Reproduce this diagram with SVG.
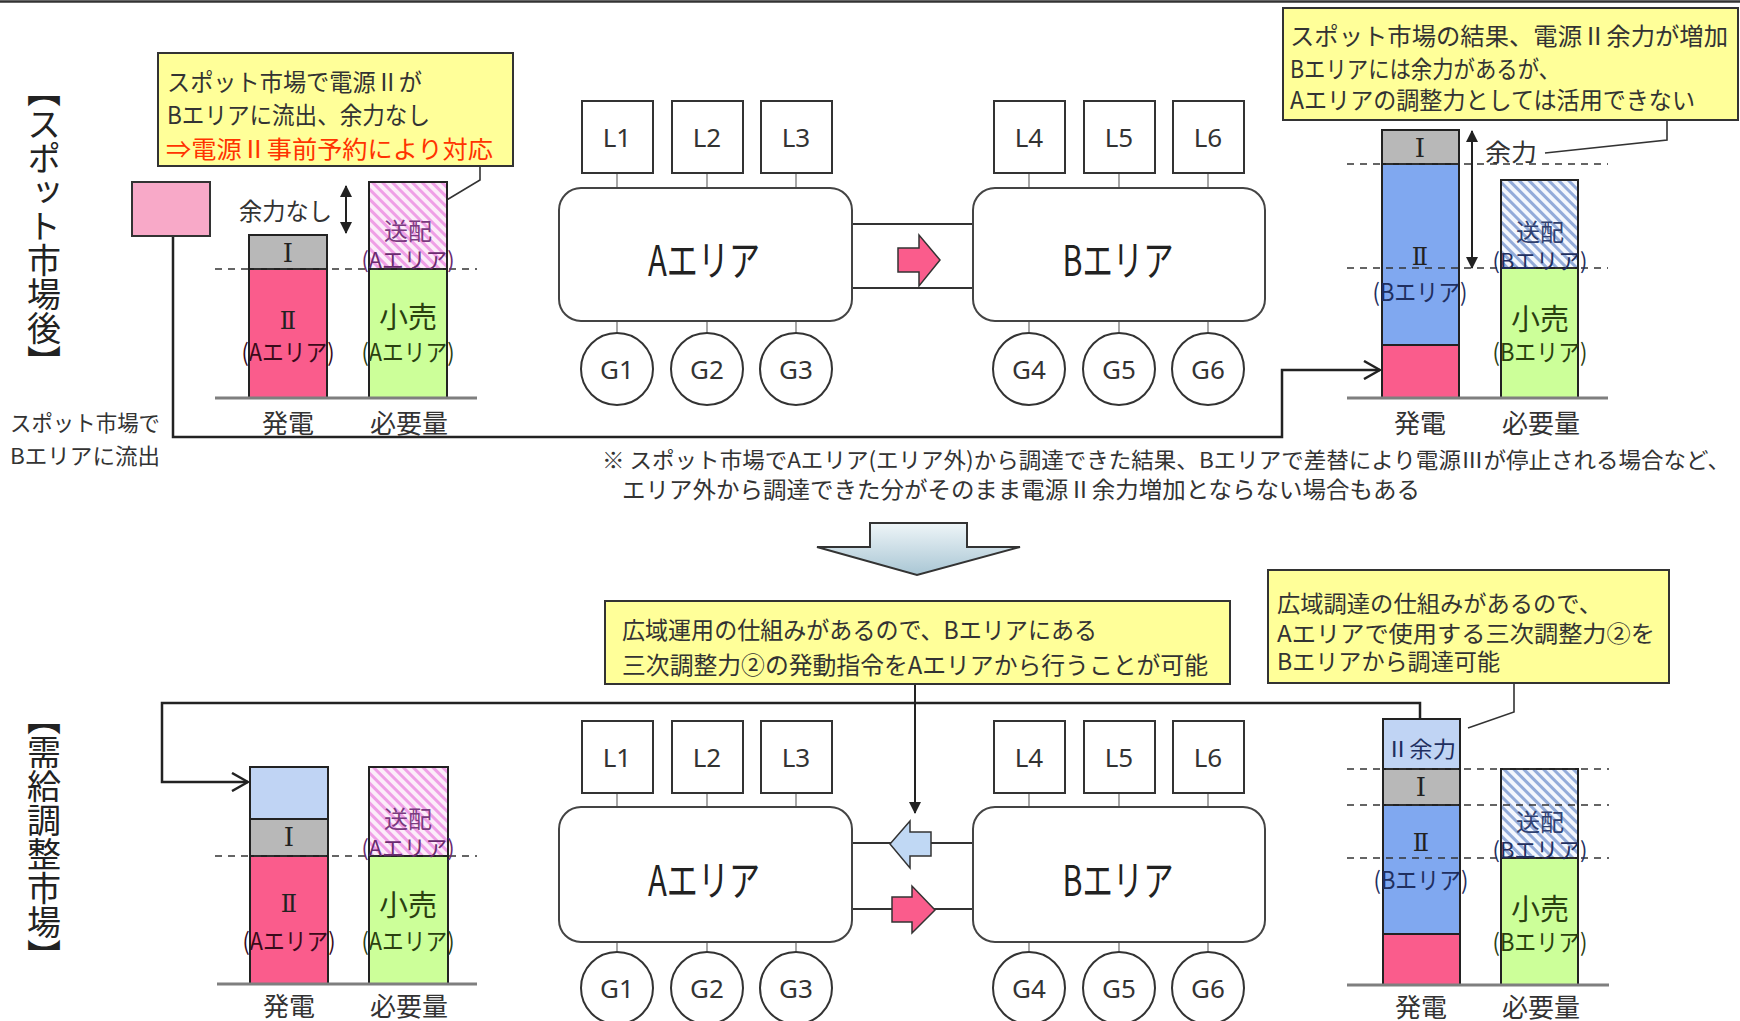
<svg xmlns="http://www.w3.org/2000/svg" width="1740" height="1021" viewBox="0 0 1740 1021">
<style>
.t{font-family:"Noto Sans CJK JP","Noto Sans",sans-serif;fill:#333;dominant-baseline:central}
.c{text-anchor:middle}
.rn{font-family:"DejaVu Serif","Liberation Serif","Noto Sans CJK JP",serif;fill:#222;text-anchor:middle;dominant-baseline:central}
.box{fill:#fff;stroke:#333;stroke-width:2}
.area{fill:#fff;stroke:#444;stroke-width:2}
.call{fill:#ffff99;stroke:#333;stroke-width:2}
.seg{stroke:#222;stroke-width:2}
.base{stroke:#7f7f7f;stroke-width:3}
.dash{stroke:#333;stroke-width:1.5;stroke-dasharray:7 6;fill:none}
.conn{fill:none;stroke:#222;stroke-width:2.5}
.lead{fill:none;stroke:#333;stroke-width:1.6}
.thin{fill:none;stroke:#777;stroke-width:1.3}
.lbl{font-family:"Noto Sans","Liberation Sans",sans-serif;fill:#333;font-size:26px;text-anchor:middle;dominant-baseline:central}
</style>
<defs>
<pattern id="hp" width="7" height="7" patternUnits="userSpaceOnUse" patternTransform="rotate(-45)">
<rect width="7" height="7" fill="#fcecf9"/><rect width="3" height="7" fill="#ef9fe6"/>
</pattern>
<pattern id="hb" width="7" height="7" patternUnits="userSpaceOnUse" patternTransform="rotate(-45)">
<rect width="7" height="7" fill="#f4f7fd"/><rect width="3" height="7" fill="#93abd9"/>
</pattern>
<linearGradient id="dg" x1="0" y1="0" x2="0" y2="1">
<stop offset="0" stop-color="#eef5f8"/><stop offset="1" stop-color="#a9c6d4"/>
</linearGradient>
<marker id="oa" viewBox="0 0 18 20" refX="17" refY="10" markerWidth="18" markerHeight="20" markerUnits="userSpaceOnUse" orient="auto">
<path d="M1,1 L17,10 L1,19" fill="none" stroke="#222" stroke-width="2.5"/>
</marker>
<marker id="ga" viewBox="0 0 12 12" refX="11" refY="6" markerWidth="12" markerHeight="12" markerUnits="userSpaceOnUse" orient="auto">
<path d="M1,1 L11,6 L1,11" fill="none" stroke="#777" stroke-width="1.3"/>
</marker>
<marker id="fa" viewBox="0 0 12 12" refX="11" refY="6" markerWidth="12" markerHeight="12" markerUnits="userSpaceOnUse" orient="auto-start-reverse">
<path d="M0,0 L12,6 L0,12 z" fill="#222"/>
</marker>
</defs>
<rect width="1740" height="1021" fill="#fff"/>
<line x1="0" y1="1.5" x2="1740" y2="1.5" stroke="#333" stroke-width="2.5"/>

<!-- titles -->
<g id="title-spot">
<text class="t" x="44" y="226" font-size="34" text-anchor="middle" style="writing-mode:vertical-rl;fill:#222">【スポット市場後】</text>
</g>
<g id="title-balancing">
<text class="t" x="44" y="837" font-size="34" text-anchor="middle" style="writing-mode:vertical-rl;fill:#222">【需給調整市場】</text>
</g>

<!-- connectors -->
<g id="connectors">
<path class="conn" d="M173,236 V437 H1282 V370 H1380" marker-end="url(#oa)"/>
<path class="conn" d="M1420,719 V703 H162 V782 H248" marker-end="url(#oa)"/>
<path fill="none" stroke="#222" stroke-width="2" d="M915,684 V813" marker-end="url(#fa)"/>
<path fill="none" stroke="#222" stroke-width="2" d="M346,186 V233" marker-start="url(#fa)" marker-end="url(#fa)"/>
<path fill="none" stroke="#222" stroke-width="2" d="M1472,131 V268" marker-start="url(#fa)" marker-end="url(#fa)"/>
<path class="lead" d="M480,166 V180 L445,201"/>
<path class="lead" d="M1667,120 V140 L1545,153"/>
<path class="lead" d="M1514,683 V712 L1468,728"/>
<g class="thin">
<path d="M617,173 V220"/><path d="M707,173 V220"/><path d="M796,173 V220"/>
<path d="M1029,173 V220"/><path d="M1119,173 V220"/><path d="M1208,173 V220"/>
<path d="M617,333 V290" marker-end="url(#ga)"/><path d="M707,333 V290" marker-end="url(#ga)"/><path d="M796,333 V290" marker-end="url(#ga)"/>
<path d="M1029,333 V290" marker-end="url(#ga)"/><path d="M1119,333 V290" marker-end="url(#ga)"/><path d="M1208,333 V290" marker-end="url(#ga)"/>
<path d="M617,793 V840"/><path d="M707,793 V840"/><path d="M796,793 V840"/>
<path d="M1029,793 V840"/><path d="M1119,793 V840"/><path d="M1208,793 V840"/>
<path d="M617,952 V910" marker-end="url(#ga)"/><path d="M707,952 V910" marker-end="url(#ga)"/><path d="M796,952 V910" marker-end="url(#ga)"/>
<path d="M1029,952 V910" marker-end="url(#ga)"/><path d="M1119,952 V910" marker-end="url(#ga)"/><path d="M1208,952 V910" marker-end="url(#ga)"/>
</g>
<g stroke="#333" stroke-width="2">
<line x1="852" y1="224" x2="973" y2="224"/><line x1="852" y1="288" x2="973" y2="288"/>
<line x1="852" y1="843" x2="973" y2="843"/><line x1="852" y1="909" x2="973" y2="909"/>
</g>
</g>

<!-- callouts -->
<g id="callout-spot-a">
<rect class="call" x="158" y="53" width="355" height="113"/>
<text class="t" x="167" y="80" font-size="24" textLength="255" lengthAdjust="spacingAndGlyphs">スポット市場で電源Ⅱが</text>
<text class="t" x="167" y="113" font-size="24" textLength="263" lengthAdjust="spacingAndGlyphs">Bエリアに流出、余力なし</text>
<text class="t" x="166" y="147" font-size="24" textLength="327" lengthAdjust="spacingAndGlyphs" style="fill:#ff3300">⇒電源Ⅱ事前予約により対応</text>
</g>
<g id="callout-spot-b">
<rect class="call" x="1283" y="8" width="455" height="112"/>
<text class="t" x="1290" y="34" font-size="24" textLength="438" lengthAdjust="spacingAndGlyphs">スポット市場の結果、電源Ⅱ余力が増加</text>
<text class="t" x="1290" y="67" font-size="24" textLength="270" lengthAdjust="spacingAndGlyphs">Bエリアには余力があるが、</text>
<text class="t" x="1290" y="98" font-size="24" textLength="405" lengthAdjust="spacingAndGlyphs">Aエリアの調整力としては活用できない</text>
</g>
<g id="callout-wide-op">
<rect class="call" x="605" y="601" width="625" height="83"/>
<text class="t" x="622" y="628" font-size="24" textLength="475" lengthAdjust="spacingAndGlyphs">広域運用の仕組みがあるので、Bエリアにある</text>
<text class="t" x="622" y="663" font-size="24" textLength="586" lengthAdjust="spacingAndGlyphs">三次調整力②の発動指令をAエリアから行うことが可能</text>
</g>
<g id="callout-wide-proc">
<rect class="call" x="1268" y="570" width="401" height="113"/>
<text class="t" x="1277" y="602" font-size="23" textLength="325" lengthAdjust="spacingAndGlyphs">広域調達の仕組みがあるので、</text>
<text class="t" x="1277" y="632" font-size="23" textLength="378" lengthAdjust="spacingAndGlyphs">Aエリアで使用する三次調整力②を</text>
<text class="t" x="1277" y="660" font-size="23" textLength="223" lengthAdjust="spacingAndGlyphs">Bエリアから調達可能</text>
</g>

<!-- spot outflow box & texts -->
<g id="spot-outflow">
<rect x="132" y="182" width="78" height="54" fill="#f8a9c8" stroke="#333" stroke-width="2"/>
<text class="t" x="10" y="421" font-size="22" textLength="150" lengthAdjust="spacingAndGlyphs">スポット市場で</text>
<text class="t" x="10" y="454" font-size="22" textLength="150" lengthAdjust="spacingAndGlyphs">Bエリアに流出</text>
</g>

<!-- top-left chart -->
<g id="chart-a-top">
<rect class="seg" x="249" y="235" width="78" height="34" fill="#b8b8b8"/>
<rect class="seg" x="249" y="269" width="78" height="129" fill="#fa5c8c"/>
<rect class="seg" x="369" y="182" width="78" height="87" fill="url(#hp)"/>
<rect class="seg" x="369" y="269" width="78" height="129" fill="#ccff99"/>
<line class="dash" x1="215" y1="269" x2="477" y2="269"/>
<line class="base" x1="215" y1="398" x2="477" y2="398"/>
<text class="rn" x="288" y="253" font-size="26">Ⅰ</text>
<text class="rn" x="288" y="321" font-size="24">Ⅱ</text>
<text class="t c" x="288" y="350" font-size="24" textLength="93" lengthAdjust="spacingAndGlyphs" style="fill:#3a0a1a">(Aエリア)</text>
<text class="t c" x="408" y="229" font-size="24" style="fill:#7a3a80">送配</text>
<text class="t c" x="408" y="258" font-size="22" textLength="93" lengthAdjust="spacingAndGlyphs" style="fill:#6a2a70">(Aエリア)</text>
<text class="t c" x="408" y="315" font-size="29" style="fill:#2a4010">小売</text>
<text class="t c" x="408" y="350" font-size="24" textLength="93" lengthAdjust="spacingAndGlyphs" style="fill:#2a4010">(Aエリア)</text>
<text class="t" x="239" y="209" font-size="24" textLength="93" lengthAdjust="spacingAndGlyphs">余力なし</text>
<text class="t c" x="288" y="421" font-size="26">発電</text>
<text class="t c" x="409" y="421" font-size="26">必要量</text>
</g>

<!-- top-right chart -->
<g id="chart-b-top">
<rect class="seg" x="1382" y="130" width="77" height="34" fill="#b8b8b8"/>
<rect class="seg" x="1382" y="164" width="77" height="181" fill="#80a8f0"/>
<rect class="seg" x="1382" y="345" width="77" height="53" fill="#fa5c8c"/>
<rect class="seg" x="1501" y="180" width="77" height="88" fill="url(#hb)"/>
<rect class="seg" x="1501" y="268" width="77" height="130" fill="#ccff99"/>
<line class="dash" x1="1347" y1="164" x2="1608" y2="164"/>
<line class="dash" x1="1347" y1="268" x2="1608" y2="268"/>
<line class="base" x1="1347" y1="398" x2="1608" y2="398"/>
<text class="rn" x="1420" y="148" font-size="26">Ⅰ</text>
<text class="rn" x="1420" y="257" font-size="24">Ⅱ</text>
<text class="t c" x="1420" y="290" font-size="24" textLength="95" lengthAdjust="spacingAndGlyphs" style="fill:#1f2f60">(Bエリア)</text>
<text class="t c" x="1540" y="230" font-size="24" style="fill:#2f4070">送配</text>
<text class="t c" x="1540" y="259" font-size="22" textLength="95" lengthAdjust="spacingAndGlyphs" style="fill:#1f2f60">(Bエリア)</text>
<text class="t c" x="1540" y="317" font-size="29" style="fill:#2a4010">小売</text>
<text class="t c" x="1540" y="350" font-size="24" textLength="95" lengthAdjust="spacingAndGlyphs" style="fill:#2a4010">(Bエリア)</text>
<text class="t" x="1485" y="150" font-size="24" textLength="52" lengthAdjust="spacingAndGlyphs">余力</text>
<text class="t c" x="1420" y="421" font-size="26">発電</text>
<text class="t c" x="1541" y="421" font-size="26">必要量</text>
</g>

<!-- top network -->
<g id="net-top">
<rect class="area" x="559" y="188" width="293" height="133" rx="22"/>
<rect class="area" x="973" y="188" width="292" height="133" rx="22"/>
<text class="t c" x="704" y="257" font-size="42" textLength="112" lengthAdjust="spacingAndGlyphs" style="fill:#222">Aエリア</text>
<text class="t c" x="1118" y="257" font-size="42" textLength="111" lengthAdjust="spacingAndGlyphs" style="fill:#222">Bエリア</text>
<polygon points="898,248 919,248 919,235 940,260 919,286 919,272 898,272" fill="#fa5c8c" stroke="#333" stroke-width="1.5"/>
</g>
<g id="loads-top">
<rect class="box" x="582" y="101" width="71" height="72"/><text class="lbl" x="617" y="137">L1</text>
<rect class="box" x="672" y="101" width="71" height="72"/><text class="lbl" x="707" y="137">L2</text>
<rect class="box" x="761" y="101" width="71" height="72"/><text class="lbl" x="796" y="137">L3</text>
<rect class="box" x="994" y="101" width="71" height="72"/><text class="lbl" x="1029" y="137">L4</text>
<rect class="box" x="1084" y="101" width="71" height="72"/><text class="lbl" x="1119" y="137">L5</text>
<rect class="box" x="1173" y="101" width="71" height="72"/><text class="lbl" x="1208" y="137">L6</text>
</g>
<g id="gens-top">
<circle class="box" cx="617" cy="369" r="36"/><text class="lbl" x="617" y="369">G1</text>
<circle class="box" cx="707" cy="369" r="36"/><text class="lbl" x="707" y="369">G2</text>
<circle class="box" cx="796" cy="369" r="36"/><text class="lbl" x="796" y="369">G3</text>
<circle class="box" cx="1029" cy="369" r="36"/><text class="lbl" x="1029" y="369">G4</text>
<circle class="box" cx="1119" cy="369" r="36"/><text class="lbl" x="1119" y="369">G5</text>
<circle class="box" cx="1208" cy="369" r="36"/><text class="lbl" x="1208" y="369">G6</text>
</g>

<!-- note -->
<g id="note">
<text class="t" x="602" y="458" font-size="22" textLength="1128" lengthAdjust="spacingAndGlyphs">※ スポット市場でAエリア(エリア外)から調達できた結果、Bエリアで差替により電源Ⅲが停止される場合など、</text>
<text class="t" x="622" y="488" font-size="23" textLength="798" lengthAdjust="spacingAndGlyphs">エリア外から調達できた分がそのまま電源Ⅱ余力増加とならない場合もある</text>
</g>

<!-- big down arrow -->
<g id="down-arrow">
<polygon points="870,523 967,523 967,547 1020,547 917,575 817,547 870,547" fill="url(#dg)" stroke="#333" stroke-width="2"/>
</g>

<!-- bottom-left chart -->
<g id="chart-a-bottom">
<rect class="seg" x="250" y="767" width="78" height="52" fill="#c0d4f4"/>
<rect class="seg" x="250" y="819" width="78" height="37" fill="#b8b8b8"/>
<rect class="seg" x="250" y="856" width="78" height="128" fill="#fa5c8c"/>
<rect class="seg" x="369" y="767" width="79" height="89" fill="url(#hp)"/>
<rect class="seg" x="369" y="856" width="79" height="128" fill="#ccff99"/>
<line class="dash" x1="215" y1="856" x2="477" y2="856"/>
<line class="base" x1="217" y1="984" x2="477" y2="984"/>
<text class="rn" x="289" y="837" font-size="26">Ⅰ</text>
<text class="rn" x="289" y="904" font-size="24">Ⅱ</text>
<text class="t c" x="289" y="939" font-size="24" textLength="93" lengthAdjust="spacingAndGlyphs" style="fill:#3a0a1a">(Aエリア)</text>
<text class="t c" x="408" y="817" font-size="24" style="fill:#7a3a80">送配</text>
<text class="t c" x="408" y="846" font-size="22" textLength="93" lengthAdjust="spacingAndGlyphs" style="fill:#6a2a70">(Aエリア)</text>
<text class="t c" x="408" y="903" font-size="29" style="fill:#2a4010">小売</text>
<text class="t c" x="408" y="939" font-size="24" textLength="93" lengthAdjust="spacingAndGlyphs" style="fill:#2a4010">(Aエリア)</text>
<text class="t c" x="289" y="1004" font-size="26">発電</text>
<text class="t c" x="409" y="1004" font-size="26">必要量</text>
</g>

<!-- bottom-right chart -->
<g id="chart-b-bottom">
<rect class="seg" x="1383" y="719" width="77" height="50" fill="#c0d4f4"/>
<rect class="seg" x="1383" y="769" width="77" height="36" fill="#b8b8b8"/>
<rect class="seg" x="1383" y="805" width="77" height="129" fill="#80a8f0"/>
<rect class="seg" x="1383" y="934" width="77" height="51" fill="#fa5c8c"/>
<rect class="seg" x="1501" y="769" width="77" height="89" fill="url(#hb)"/>
<rect class="seg" x="1501" y="858" width="77" height="127" fill="#ccff99"/>
<line class="dash" x1="1347" y1="769" x2="1609" y2="769"/>
<line class="dash" x1="1347" y1="805" x2="1609" y2="805"/>
<line class="dash" x1="1347" y1="858" x2="1609" y2="858"/>
<line class="base" x1="1347" y1="985" x2="1609" y2="985"/>
<text class="t c" x="1421" y="747" font-size="22" textLength="70" lengthAdjust="spacingAndGlyphs" style="fill:#1f2f60">Ⅱ余力</text>
<text class="rn" x="1421" y="787" font-size="26">Ⅰ</text>
<text class="rn" x="1421" y="843" font-size="24">Ⅱ</text>
<text class="t c" x="1421" y="878" font-size="24" textLength="95" lengthAdjust="spacingAndGlyphs" style="fill:#1f2f60">(Bエリア)</text>
<text class="t c" x="1540" y="820" font-size="24" style="fill:#2f4070">送配</text>
<text class="t c" x="1540" y="848" font-size="22" textLength="95" lengthAdjust="spacingAndGlyphs" style="fill:#1f2f60">(Bエリア)</text>
<text class="t c" x="1540" y="907" font-size="29" style="fill:#2a4010">小売</text>
<text class="t c" x="1540" y="940" font-size="24" textLength="95" lengthAdjust="spacingAndGlyphs" style="fill:#2a4010">(Bエリア)</text>
<text class="t c" x="1421" y="1005" font-size="26">発電</text>
<text class="t c" x="1541" y="1005" font-size="26">必要量</text>
</g>

<!-- bottom network -->
<g id="net-bottom">
<rect class="area" x="559" y="807" width="293" height="135" rx="22"/>
<rect class="area" x="973" y="807" width="292" height="135" rx="22"/>
<text class="t c" x="704" y="877" font-size="42" textLength="112" lengthAdjust="spacingAndGlyphs" style="fill:#222">Aエリア</text>
<text class="t c" x="1118" y="877" font-size="42" textLength="111" lengthAdjust="spacingAndGlyphs" style="fill:#222">Bエリア</text>
<polygon points="890,844 910,821 910,832 931,832 931,856 910,856 910,868" fill="#c0d8f4" stroke="#333" stroke-width="1.5"/>
<polygon points="892,897 912,897 912,886 935,910 912,933 912,922 892,922" fill="#fa5c8c" stroke="#333" stroke-width="1.5"/>
</g>
<g id="loads-bottom">
<rect class="box" x="582" y="721" width="71" height="72"/><text class="lbl" x="617" y="757">L1</text>
<rect class="box" x="672" y="721" width="71" height="72"/><text class="lbl" x="707" y="757">L2</text>
<rect class="box" x="761" y="721" width="71" height="72"/><text class="lbl" x="796" y="757">L3</text>
<rect class="box" x="994" y="721" width="71" height="72"/><text class="lbl" x="1029" y="757">L4</text>
<rect class="box" x="1084" y="721" width="71" height="72"/><text class="lbl" x="1119" y="757">L5</text>
<rect class="box" x="1173" y="721" width="71" height="72"/><text class="lbl" x="1208" y="757">L6</text>
</g>
<g id="gens-bottom">
<circle class="box" cx="617" cy="988" r="36"/><text class="lbl" x="617" y="988">G1</text>
<circle class="box" cx="707" cy="988" r="36"/><text class="lbl" x="707" y="988">G2</text>
<circle class="box" cx="796" cy="988" r="36"/><text class="lbl" x="796" y="988">G3</text>
<circle class="box" cx="1029" cy="988" r="36"/><text class="lbl" x="1029" y="988">G4</text>
<circle class="box" cx="1119" cy="988" r="36"/><text class="lbl" x="1119" y="988">G5</text>
<circle class="box" cx="1208" cy="988" r="36"/><text class="lbl" x="1208" y="988">G6</text>
</g>
</svg>
